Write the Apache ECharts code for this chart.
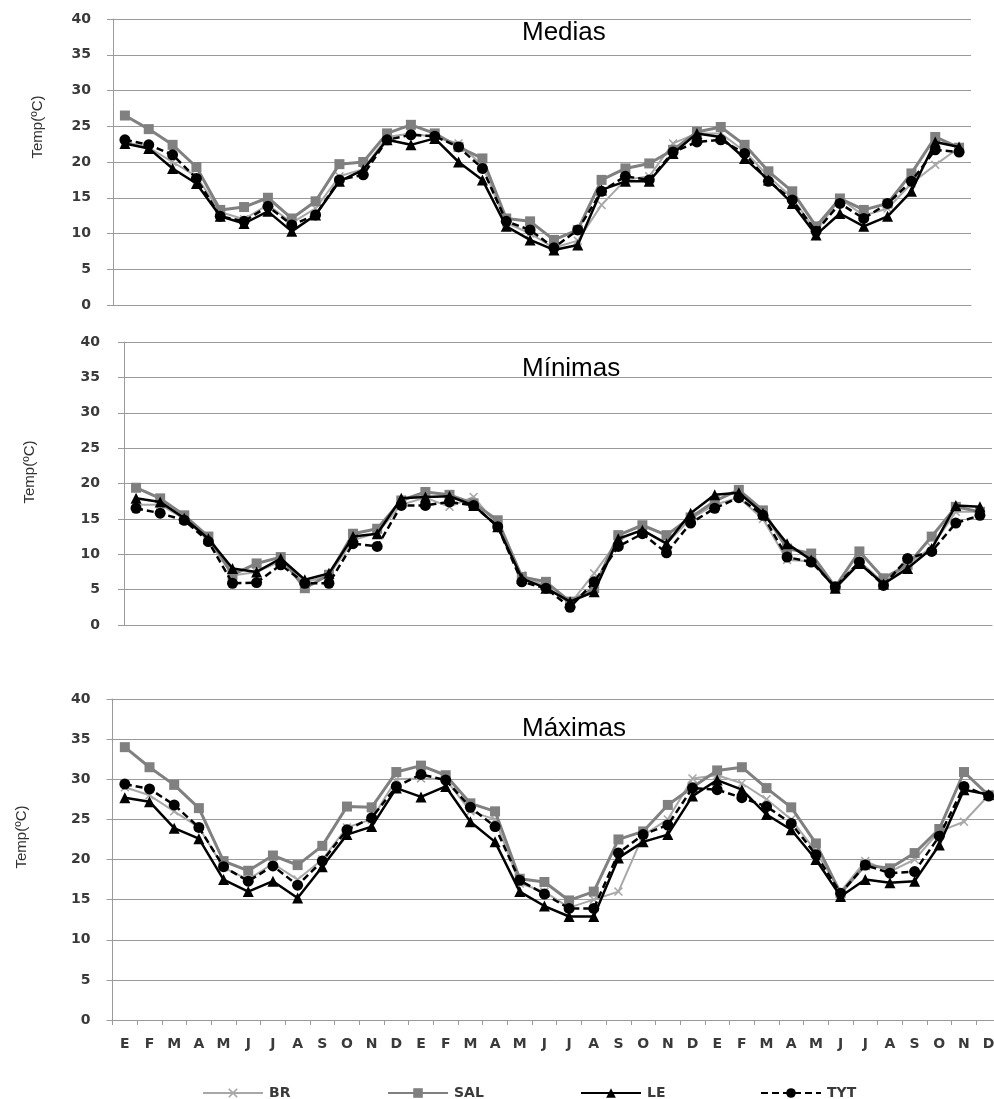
<!DOCTYPE html>
<html>
<head>
<meta charset="utf-8">
<script src="https://cdn.jsdelivr.net/npm/echarts@6/dist/echarts.min.js"></script>
<style>
html,body{margin:0;padding:0;background:#fff;overflow:hidden;width:994px;height:1099px;}
#c{width:1010px;height:1099px;}
</style>
</head>
<body>
<div id="c"></div>
<script>
const months = ['E','F','M','A','M','J','J','A','S','O','N','D','E','F','M','A','M','J','J','A','S','O','N','D','E','F','M','A','M','J','J','A','S','O','N','D'];
const yTicks = [0,5,10,15,20,25,30,35,40];
const panelTitles = ['Medias','Mínimas','Máximas'];
const seriesNames = ['BR','SAL','LE','TYT'];

// Medias
const mediasBR  = [22.8,22.0,20.0,18.0,13.0,12.0,14.0,11.5,13.5,18.0,19.0,23.5, 24.0,23.5,22.6,19.5,11.5,10.0,8.0,9.0,14.0,17.5,18.0,22.6, 24.0,24.0,21.5,18.0,15.0,10.3,14.9,12.5,13.5,17.0,19.6,22.0];
const mediasSAL = [26.5,24.6,22.4,19.3,13.3,13.7,15.0,12.1,14.5,19.7,20.0,24.0, 25.2,24.0,22.1,20.5,12.1,11.7,9.1,10.5,17.5,19.1,19.8,21.7, 24.2,24.9,22.4,18.7,15.9,11.0,14.9,13.3,14.2,18.4,23.5,22.0];
const mediasLE  = [22.6,21.9,19.1,17.0,12.4,11.4,13.1,10.3,12.6,17.3,18.9,23.1, 22.4,23.3,20.0,17.5,11.0,9.1,7.7,8.4,16.1,17.3,17.3,21.2, 24.0,23.5,20.5,17.5,14.2,9.8,12.8,11.0,12.4,15.9,22.8,22.1];
const mediasTYT = [23.1,22.4,21.0,17.7,12.4,11.7,13.8,11.2,12.6,17.5,18.2,23.1, 23.8,23.6,22.1,19.1,11.7,10.5,8.0,10.5,15.9,18.0,17.5,21.4, 22.8,23.1,21.2,17.3,14.7,10.3,14.2,12.1,14.2,17.3,21.7,21.4];

// Mínimas
const minBR  = [17.0,17.0,15.0,12.0,7.0,7.5,9.0,6.0,7.0,12.0,13.0,17.0, 18.0,16.7,18.1,14.0,7.0,5.5,3.0,7.3,12.0,13.5,11.5,15.0, 17.0,18.0,15.0,9.2,9.0,5.5,9.0,6.0,8.5,11.0,16.0,16.0];
const minSAL = [19.4,17.9,15.5,12.5,7.1,8.7,9.6,5.2,7.1,12.9,13.6,17.6, 18.8,18.4,17.2,14.8,6.8,6.1,3.3,5.2,12.7,14.1,12.7,15.2, 17.5,19.1,16.2,10.8,10.1,5.4,10.4,6.6,8.5,12.5,16.7,16.0];
const minLE  = [17.9,17.4,15.1,12.2,8.0,7.5,9.4,6.4,7.3,12.5,12.9,17.9, 18.1,18.2,16.9,13.9,6.6,5.2,3.3,4.7,12.2,13.4,11.5,15.8, 18.4,18.7,15.8,11.5,9.2,5.2,8.7,5.8,8.0,10.8,16.9,16.7];
const minTYT = [16.5,15.8,14.8,11.8,5.9,6.0,8.5,5.9,5.9,11.5,11.1,16.9, 16.9,17.4,16.9,13.9,6.1,5.2,2.5,6.1,11.1,12.9,10.2,14.4, 16.5,18.0,15.5,9.6,8.9,5.4,8.9,5.6,9.4,10.4,14.4,15.5];

// Máximas
const maxBR  = [29.0,28.0,26.0,24.0,19.0,17.5,19.5,17.5,20.0,24.0,25.0,30.0, 30.1,30.0,26.0,25.0,17.0,16.0,14.0,15.0,16.0,23.0,25.0,30.1, 30.5,29.5,27.5,25.0,21.0,16.0,19.8,18.5,20.0,23.5,24.7,28.0];
const maxSAL = [34.0,31.5,29.3,26.4,19.8,18.6,20.5,19.3,21.7,26.6,26.5,30.9, 31.7,30.5,27.0,26.0,17.6,17.2,14.9,16.0,22.5,23.5,26.8,29.0, 31.1,31.5,28.9,26.5,22.0,15.8,19.3,18.9,20.8,23.8,30.9,28.0];
const maxLE  = [27.7,27.2,23.9,22.6,17.5,16.0,17.3,15.2,19.1,23.1,24.1,28.9, 27.8,29.1,24.7,22.2,16.0,14.2,12.9,12.9,20.2,22.2,23.1,27.9, 29.9,28.7,25.6,23.7,20.0,15.4,17.5,17.1,17.3,21.8,28.7,28.1];
const maxTYT = [29.4,28.8,26.8,24.0,19.1,17.3,19.2,16.8,19.8,23.7,25.2,29.1, 30.6,29.9,26.5,24.1,17.4,15.7,13.9,13.9,20.8,23.1,24.3,28.9, 28.7,27.7,26.6,24.5,20.6,15.8,19.3,18.3,18.5,22.9,29.1,27.9];

const panelData = [
  [mediasBR, mediasSAL, mediasLE, mediasTYT],
  [minBR, minSAL, minLE, minTYT],
  [maxBR, maxSAL, maxLE, maxTYT]
];

const grids = [
  {left:113, top:19, width:858, height:286},
  {left:124, top:342, width:868, height:283},
  {left:112.5, top:699, width:888.5, height:321}
];
const labelMargins = [22, 24, 22];
const titleLayout = [
  {x:522, y:33},
  {x:522, y:369},
  {x:522, y:729}
];
const yNameLayout = [
  {x:38, y:127},
  {x:30, y:472},
  {x:22, y:837}
];

const axisGray = '#9a9a9a';
const CROSS = 'path://M0,1.2L1.2,0L5,3.8L8.8,0L10,1.2L6.2,5L10,8.8L8.8,10L5,6.2L1.2,10L0,8.8L3.8,5Z';

const styles = {
  BR:  {color:'#a8a8a8', width:2,   type:'solid',  symbol:CROSS,      size:9},
  SAL: {color:'#808080', width:3,   type:'solid',  symbol:'rect',     size:10},
  LE:  {color:'#000000', width:2.5, type:'solid',  symbol:'triangle', size:11},
  TYT: {color:'#000000', width:2.5, type:[7,4],    symbol:'circle',   size:11}
};

const xAxes = [], yAxes = [], series = [];
grids.forEach((g, gi) => {
  const isBottom = gi === 2;
  xAxes.push({
    type:'category', gridIndex:gi, data:months, boundaryGap:true,
    axisLine:{show:true, lineStyle:{color:axisGray, width:1}},
    axisTick:{show:isBottom, length:5, lineStyle:{color:axisGray}},
    axisLabel:{show:isBottom, interval:0, margin:17, fontSize:14, fontWeight:'bold',
      color:'#3a3a3a', fontFamily:'DejaVu Sans'},
    splitLine:{show:false}
  });
  yAxes.push({
    type:'value', gridIndex:gi, min:yTicks[0], max:yTicks[yTicks.length-1], interval:5,
    axisLine:{show:true, lineStyle:{color:axisGray, width:1}},
    axisTick:{show:true, length:6, lineStyle:{color:axisGray}},
    axisLabel:{margin:labelMargins[gi], fontSize:14, fontWeight:'bold', color:'#3a3a3a',
      fontFamily:'DejaVu Sans'},
    splitLine:{show:true, lineStyle:{color:axisGray, width:1}}
  });
  seriesNames.forEach((name, si) => {
    const s = styles[name];
    series.push({
      name:name, type:'line', xAxisIndex:gi, yAxisIndex:gi,
      data:panelData[gi][si],
      symbol:s.symbol, symbolSize:s.size, showSymbol:true,
      lineStyle:{color:s.color, width:s.width, type:s.type},
      itemStyle:{color:s.color, borderWidth:0},
      animation:false, z:2+si
    });
  });
});

const legends = [
  {name:'BR', left:202},
  {name:'SAL', left:387},
  {name:'LE', left:580},
  {name:'TYT', left:760}
].map(l => ({
  data:[l.name], left:l.left, top:1086, itemWidth:60, itemHeight:12, itemGap:0, padding:0,
  selectedMode:false,
  textStyle:{fontSize:14, fontWeight:'bold', color:'#3a3a3a', fontFamily:'DejaVu Sans', padding:[0,0,0,1]}
}));

const graphics = [];
panelTitles.forEach((t, i) => {
  graphics.push({
    type:'text', x:titleLayout[i].x, y:titleLayout[i].y, z:100,
    style:{text:t, fontSize:26, fontFamily:'Liberation Sans', fill:'#000',
      align:'left', verticalAlign:'middle'}
  });
  graphics.push({
    type:'text', x:yNameLayout[i].x, y:yNameLayout[i].y, rotation:Math.PI/2, z:100,
    style:{text:'Temp(ºC)', fontSize:15, fontFamily:'Liberation Sans', fill:'#333',
      align:'center', verticalAlign:'middle'}
  });
});

const chart = echarts.init(document.getElementById('c'), null, {renderer:'canvas'});
chart.setOption({
  backgroundColor:'#ffffff',
  animation:false,
  grid:grids,
  xAxis:xAxes,
  yAxis:yAxes,
  legend:legends,
  graphic:graphics,
  series:series
});
</script>
</body>
</html>
